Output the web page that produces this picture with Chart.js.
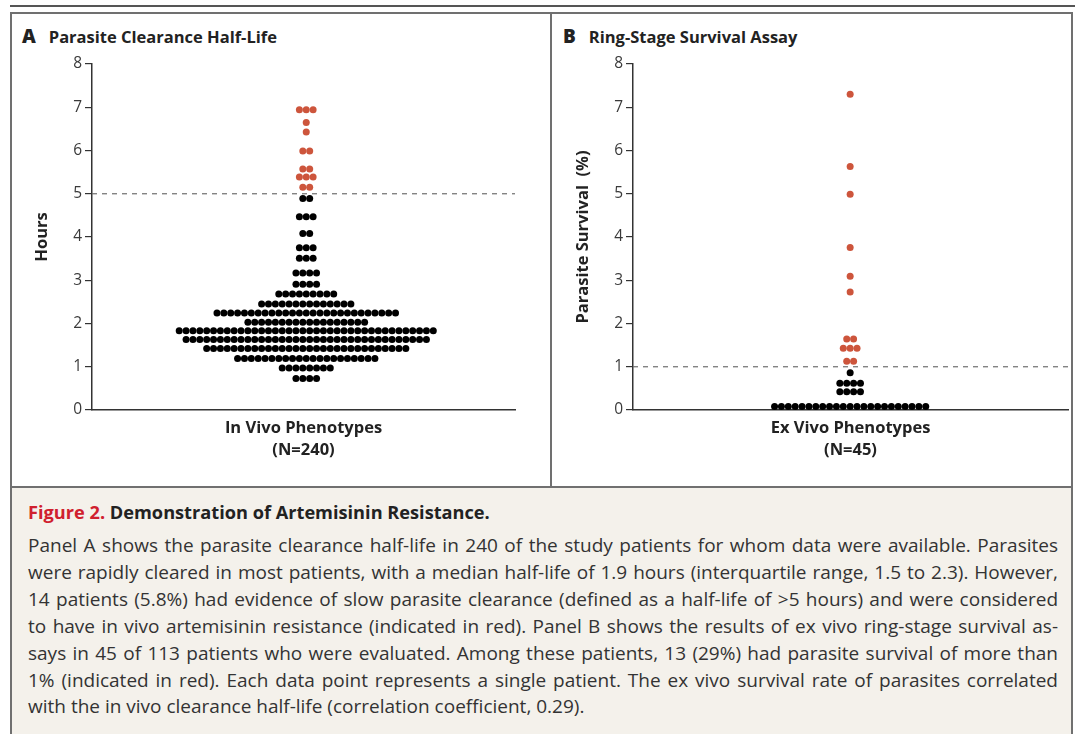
<!DOCTYPE html>
<html>
<head>
<meta charset="utf-8">
<script src="https://cdn.jsdelivr.net/npm/chart.js@4.4.1/dist/chart.umd.min.js"></script>
<style>
  body { margin: 0; width: 1075px; height: 734px; background: #fff; position: relative; overflow: hidden; font-family: "Open Sans", sans-serif; color: #222; }
  .abs { position: absolute; }
  .topline { left: 10px; top: 5px; width: 1065px; border-top: 2px solid #555; }
  .panelbox { left: 10px; top: 12px; width: 1063px; height: 475px; box-sizing: border-box; border: 2px solid #707070; border-bottom: none; }
  .divider { left: 550px; top: 12px; width: 0; height: 475px; border-left: 2px solid #707070; }
  .ptitle { top: 24px; line-height: 24px; font-weight: 700; font-size: 16.5px; color: #222; }
  .ptitle b { font-size: 19px; margin-right: 13px; }
  .caption { left: 10px; top: 486px; width: 1063px; height: 248px; box-sizing: border-box; background: #f4f1eb; border: 2px solid #707070; border-bottom: none; }
  .ctitle { left: 28px; top: 500px; line-height: 24px; font-weight: 700; font-size: 18.2px; color: #222; }
  .ctitle span { color: #d0202e; }
  .cline { left: 28px; width: 1030px; line-height: 24px; font-size: 19px; white-space: nowrap; text-align: justify; text-align-last: justify; color: #333; }
  .cline.last { text-align-last: left; }
  .chartbox { top: 50px; height: 436px; }
</style>
</head>
<body>
<div class="abs topline"></div>
<div class="abs panelbox"></div>
<div class="abs divider"></div>
<div class="abs ptitle" style="left:22px"><b>A</b>Parasite Clearance Half-Life</div>
<div class="abs ptitle" style="left:563px"><b>B</b>Ring-Stage Survival Assay</div>

<div class="abs chartbox" style="left:12px;width:538px"><canvas id="chartA" width="538" height="436"></canvas></div>
<div class="abs chartbox" style="left:552px;width:521px"><canvas id="chartB" width="521" height="436"></canvas></div>

<div class="abs caption"></div>
<div class="abs ctitle"><span>Figure 2.</span> Demonstration of Artemisinin Resistance.</div>
<div class="abs cline" style="top:533px">Panel A shows the parasite clearance half-life in 240 of the study patients for whom data were available. Parasites</div>
<div class="abs cline" style="top:560px">were rapidly cleared in most patients, with a median half-life of 1.9 hours (interquartile range, 1.5 to 2.3). However,</div>
<div class="abs cline" style="top:587px">14 patients (5.8%) had evidence of slow parasite clearance (defined as a half-life of &gt;5 hours) and were considered</div>
<div class="abs cline" style="top:614px">to have in vivo artemisinin resistance (indicated in red). Panel B shows the results of ex vivo ring-stage survival as-</div>
<div class="abs cline" style="top:641px">says in 45 of 113 patients who were evaluated. Among these patients, 13 (29%) had parasite survival of more than</div>
<div class="abs cline" style="top:668px">1% (indicated in red). Each data point represents a single patient. The ex vivo survival rate of parasites correlated</div>
<div class="abs cline last" style="top:694px">with the in vivo clearance half-life (correlation coefficient, 0.29).</div>

<script>
// Panel A: half-life rows (hours) and number of patients in each row
const aRedHours = [6.94, 6.65, 6.43, 5.99, 5.57, 5.39, 5.15]
const aRedCounts = [3, 1, 1, 2, 2, 3, 2]
const aBlackHours = [4.89, 4.47, 4.08, 3.75, 3.51, 3.17, 2.91, 2.68, 2.45, 2.24, 2.03, 1.83, 1.63, 1.42, 1.19, 0.97, 0.73]
const aBlackCounts = [2, 3, 2, 3, 3, 4, 4, 9, 14, 27, 18, 38, 36, 30, 21, 8, 4]

// Panel B: survival rows (%) and number of patients in each row
const bRedSurvival = [7.30, 5.63, 4.99, 3.76, 3.09, 2.73, 1.64, 1.43, 1.13]
const bRedCounts = [1, 1, 1, 1, 1, 1, 2, 3, 2]
const bBlackSurvival = [0.86, 0.62, 0.42, 0.08]
const bBlackCounts = [1, 4, 4, 23]

const yTicks = [0, 1, 2, 3, 4, 5, 6, 7, 8]

const RED = '#cd553c'
const BLACK = '#000000'
const AXIS = '#333333'

// lay each row out side by side, one x unit per dot
function swarm(values, counts) {
    const pts = []
    values.forEach((v, r) => {
        for (let i = 0; i < counts[r]; i++) {
            pts.push({x: i - (counts[r] - 1) / 2, y: v})
        }
    })
    return pts
}

const thresholdLine = {
    id: 'thresholdLine',
    beforeDatasetsDraw(chart, args, opts) {
        const {ctx, chartArea, scales} = chart
        const y = scales.y.getPixelForValue(opts.value)
        ctx.save()
        ctx.strokeStyle = '#6e6e6e'
        ctx.lineWidth = 1.2
        ctx.setLineDash([5, 5])
        ctx.beginPath()
        ctx.moveTo(chartArea.left, y)
        ctx.lineTo(chartArea.right, y)
        ctx.stroke()
        ctx.restore()
    }
}

function makeChart(id, cfg) {
    return new Chart(document.getElementById(id).getContext('2d'), {
        type: 'scatter',
        data: {
            datasets: [
                {data: swarm(cfg.blackY, cfg.blackN), backgroundColor: BLACK},
                {data: swarm(cfg.redY, cfg.redN), backgroundColor: RED}
            ]
        },
        options: {
            responsive: false,
            animation: false,
            events: [],
            clip: false,
            elements: {point: {radius: 3.5, borderWidth: 0, hoverRadius: 3.5}},
            layout: {padding: {left: 0, top: 14, right: cfg.rightPad, bottom: 0}},
            plugins: {
                legend: {display: false},
                tooltip: {enabled: false},
                thresholdLine: {value: cfg.threshold}
            },
            scales: {
                x: {
                    type: 'linear',
                    min: cfg.xMin,
                    max: cfg.xMax,
                    ticks: {display: false},
                    grid: {display: false},
                    border: {display: true, color: AXIS, width: 1.5},
                    title: {
                        display: true,
                        text: cfg.xTitle,
                        color: '#222',
                        font: {family: 'Open Sans', size: 16.5, weight: 'bold', lineHeight: 22 / 16.5},
                        padding: {top: 0, bottom: 25}
                    },
                    afterFit: (scale) => { scale.height = 76 }
                },
                y: {
                    min: 0,
                    max: 8,
                    afterBuildTicks: (scale) => { scale.ticks = yTicks.map(v => ({value: v})) },
                    ticks: {color: '#3a3a3a', padding: 3, font: {family: 'Open Sans', size: 15.5}},
                    grid: {drawOnChartArea: false, drawTicks: true, tickLength: 7, color: AXIS, lineWidth: 1.2},
                    border: {display: true, color: AXIS, width: 1.5},
                    title: {
                        display: true,
                        text: cfg.yTitle,
                        color: '#222',
                        font: {family: 'Open Sans', size: 16.5, weight: 'bold', lineHeight: 1.2},
                        padding: {top: cfg.yTitlePad, bottom: 0}
                    },
                    afterFit: (scale) => { scale.width = cfg.yWidth }
                }
            }
        },
        plugins: [thresholdLine]
    })
}

makeChart('chartA', {
    blackY: aBlackHours, blackN: aBlackCounts,
    redY: aRedHours, redN: aRedCounts,
    threshold: 5,
    xMin: -31.2, xMax: 30.4,
    xTitle: ['In Vivo Phenotypes', '(N=240)'],
    yTitle: 'Hours',
    yTitlePad: 20, yWidth: 80, rightPad: 35
})

makeChart('chartB', {
    blackY: bBlackSurvival, blackN: bBlackCounts,
    redY: bRedSurvival, redN: bRedCounts,
    threshold: 1,
    xMin: -31.6, xMax: 31.7,
    xTitle: ['Ex Vivo Phenotypes', '(N=45)'],
    yTitle: 'Parasite Survival  (%)',
    yTitlePad: 21, yWidth: 81, rightPad: 5
})
</script>
</body>
</html>
